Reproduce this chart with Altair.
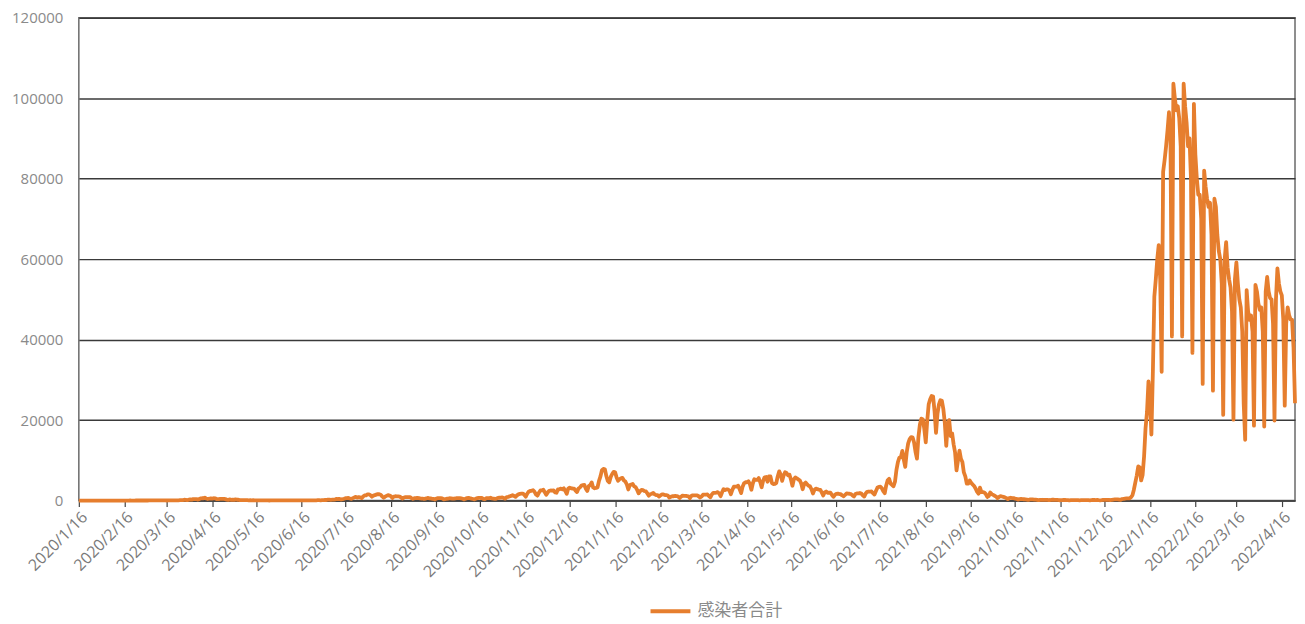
import altair as alt
import pandas as pd
from datetime import datetime, timezone

# Daily new infections, one list per month (2020/1/16 - 2022/4/25)
c2020_01 = [1, 0, 0, 0, 0, 0, 0, 1, 2, 0, 0, 1, 1, 2, 3, 2]
c2020_02 = [2, 2, 0, 0, 3, 1, 0, 0, 0, 1, 0, 0, 2, 8, 8, 5, 6, 7, 7, 12, 10, 8, 11, 13, 13, 13, 15, 20, 13]
c2020_03 = [14, 14, 20, 33, 33, 50, 43, 32, 25, 59, 52, 56, 42, 61, 34, 18, 44, 39, 37, 37, 35, 53, 40, 65, 93, 96, 123, 201, 173, 86, 225]
c2020_04 = [266, 235, 351, 368, 383, 252, 351, 515, 576, 579, 720, 507, 391, 457, 549, 482, 584, 568, 373, 369, 391, 441, 436, 439, 353, 233, 197, 276, 196, 243]
c2020_05 = [165, 294, 203, 204, 123, 98, 95, 116, 110, 89, 57, 80, 56, 76, 57, 72, 38, 42, 32, 31, 24, 23, 40, 27, 21, 28, 35, 64, 37, 57, 50]
c2020_06 = [34, 36, 40, 48, 39, 44, 38, 48, 38, 53, 43, 38, 46, 67, 48, 72, 43, 33, 66, 43, 57, 37, 56, 53, 72, 62, 92, 88, 61, 117]
c2020_07 = [125, 138, 136, 230, 234, 194, 216, 218, 296, 430, 386, 407, 259, 339, 442, 592, 581, 650, 510, 422, 607, 773, 928, 713, 852, 785, 622, 985, 1262, 1305, 1534]
c2020_08 = [1536, 1331, 958, 1237, 1356, 1485, 1595, 1567, 1442, 1048, 699, 976, 1176, 1365, 1236, 1070, 644, 1007, 1070, 1048, 1022, 986, 740, 499, 762, 880, 857, 852, 852, 613, 442]
c2020_09 = [596, 592, 671, 594, 520, 508, 453, 440, 523, 642, 578, 547, 437, 423, 270, 500, 590, 594, 585, 535, 323, 386, 450, 489, 580, 566, 479, 466, 521, 628]
c2020_10 = [593, 601, 545, 450, 290, 485, 615, 691, 587, 474, 389, 301, 486, 589, 684, 642, 652, 426, 318, 594, 613, 621, 700, 533, 485, 400, 500, 656, 700, 750, 800]
c2020_11 = [613, 482, 862, 900, 1062, 1142, 1333, 1145, 925, 1286, 1541, 1660, 1704, 1738, 1440, 951, 1697, 2201, 2388, 2427, 2597, 2169, 1518, 1228, 1948, 2504, 2510, 2684, 2068, 1434]
c2020_12 = [2031, 2423, 2505, 2444, 2513, 2027, 1940, 2791, 2811, 2973, 2795, 3041, 2388, 1686, 2979, 3211, 3044, 3000, 2993, 2470, 2121, 2997, 3244, 3747, 3835, 3881, 2958, 2394, 3601, 3853, 4519]
c2021_01 = [3258, 3058, 3129, 3315, 4907, 5999, 7570, 7882, 7790, 6094, 4876, 4528, 5871, 6605, 7133, 7014, 5759, 4925, 5320, 5530, 5654, 4983, 4714, 3990, 2764, 3853, 3960, 4132, 3529, 3342, 2673]
c2021_02 = [1792, 2324, 2631, 2576, 2369, 2278, 1781, 1219, 1569, 1711, 1878, 1538, 1361, 1362, 1001, 1307, 1520, 1519, 1371, 1342, 1258, 738, 944, 1087, 1075, 1163, 1129, 1001]
c2021_03 = [647, 967, 1234, 1173, 1147, 1138, 1063, 599, 1125, 1306, 1282, 1312, 1288, 1074, 743, 1017, 1451, 1496, 1487, 1515, 1119, 822, 1523, 1907, 1915, 1994, 2083, 1788, 1084, 2069, 2843]
c2021_04 = [2606, 2762, 2779, 2471, 1571, 2650, 3451, 3449, 3454, 3697, 2777, 1841, 3451, 4301, 4568, 4537, 4796, 4072, 2686, 4298, 5293, 5140, 5119, 5600, 4598, 3314, 4884, 5789, 5852, 4678]
c2021_05 = [5989, 5998, 4382, 4075, 4125, 4394, 6051, 7244, 6480, 4900, 6244, 7045, 6885, 6266, 6419, 5241, 3683, 5250, 5729, 5526, 5236, 5031, 4222, 2816, 4130, 4474, 4069, 3661, 3523, 2811, 1760]
c2021_06 = [2627, 2974, 2825, 2722, 2668, 2045, 1253, 2020, 2239, 1937, 1941, 1943, 1387, 936, 1426, 1687, 1747, 1622, 1580, 1272, 1079, 1442, 1784, 1717, 1696, 1625, 1291, 1036, 1617, 1762]
c2021_07 = [1814, 1878, 1748, 1293, 992, 1751, 2187, 2248, 2224, 2258, 1844, 1503, 2385, 3194, 3416, 3434, 3097, 2329, 1841, 3758, 5020, 5402, 4225, 3875, 3574, 4692, 7629, 9576, 10693, 10744, 12340]
c2021_08 = [10167, 8393, 12017, 14207, 15263, 15753, 15700, 14477, 12134, 10420, 15810, 18889, 20366, 20151, 17841, 14466, 19868, 23915, 25156, 25992, 25865, 22219, 16836, 21563, 23908, 24949, 24809, 22748, 19300, 13600, 19000]
c2021_09 = [20000, 16000, 16700, 14000, 12000, 7500, 10000, 12400, 10400, 9600, 7000, 6000, 4200, 4200, 5000, 4400, 4000, 3600, 3000, 2200, 1700, 3200, 2100, 2100, 2000, 1600, 900, 1100, 2000, 1600]
c2021_10 = [1400, 1200, 1000, 600, 900, 1100, 1000, 900, 800, 600, 360, 600, 700, 620, 600, 500, 430, 230, 370, 390, 350, 330, 290, 230, 150, 280, 300, 280, 260, 240, 180]
c2021_11 = [86, 180, 160, 200, 160, 170, 160, 110, 140, 200, 210, 170, 160, 150, 80, 120, 130, 140, 150, 110, 110, 50, 90, 100, 130, 120, 120, 100, 70, 100]
c2021_12 = [120, 110, 130, 130, 110, 60, 110, 140, 170, 130, 140, 100, 70, 120, 180, 170, 190, 170, 160, 100, 200, 250, 280, 280, 300, 230, 200, 380, 400, 500, 560]
c2022_01 = [534, 558, 782, 1265, 2638, 4475, 6214, 8480, 8249, 5000, 6377, 11000, 18000, 22000, 29600, 25500, 16400, 32000, 50700, 55000, 60000, 63500, 55000, 32000, 81700, 84600, 88000, 92000, 96500, 90000, 40800]
c2022_02 = [103600, 100000, 97000, 98000, 95000, 88000, 40800, 103600, 98000, 94000, 88000, 90000, 80000, 36700, 98600, 86000, 80000, 76000, 76000, 70000, 29000, 82000, 78000, 75000, 73000, 74000, 66000, 27300]
c2022_03 = [75000, 73000, 66000, 62000, 60000, 54000, 21300, 60000, 64200, 58000, 55000, 53000, 47000, 20100, 55000, 59200, 54000, 50000, 48000, 42000, 24000, 15100, 52300, 47000, 44900, 46000, 42000, 18600, 53600, 52000, 49000]
c2022_04 = [47400, 48000, 42000, 18400, 52000, 55600, 52000, 50300, 50000, 44000, 19900, 50000, 57700, 54000, 52000, 51000, 45000, 23600, 44000, 48000, 46000, 45000, 44900, 38000, 24200]

start_date = "2020-01-16"
series_name = "感染者合計"
tick_labels = [
    "2020/1/16", "2020/2/16", "2020/3/16", "2020/4/16", "2020/5/16", "2020/6/16",
    "2020/7/16", "2020/8/16", "2020/9/16", "2020/10/16", "2020/11/16", "2020/12/16",
    "2021/1/16", "2021/2/16", "2021/3/16", "2021/4/16", "2021/5/16", "2021/6/16",
    "2021/7/16", "2021/8/16", "2021/9/16", "2021/10/16", "2021/11/16", "2021/12/16",
    "2022/1/16", "2022/2/16", "2022/3/16", "2022/4/16",
]
y_ticks = [0, 20000, 40000, 60000, 80000, 100000, 120000]

months = [
    c2020_01, c2020_02, c2020_03, c2020_04, c2020_05, c2020_06, c2020_07, c2020_08,
    c2020_09, c2020_10, c2020_11, c2020_12, c2021_01, c2021_02, c2021_03, c2021_04,
    c2021_05, c2021_06, c2021_07, c2021_08, c2021_09, c2021_10, c2021_11, c2021_12,
    c2022_01, c2022_02, c2022_03, c2022_04,
]
values = [v for m in months for v in m]
dates = pd.date_range(start_date, periods=len(values), freq="D", tz="UTC")
t_ms = [int(d.timestamp() * 1000) for d in dates]
df = pd.DataFrame({"t": t_ms, "v": values, "s": series_name})


def to_ms(lbl):
    return int(datetime.strptime(lbl, "%Y/%m/%d").replace(tzinfo=timezone.utc).timestamp() * 1000)


tick_ms = [to_ms(l) for l in tick_labels]

chart = alt.Chart(df).mark_line(strokeWidth=3.8, strokeJoin="round").encode(
    x=alt.X(
        "t:T",
        scale=alt.Scale(type="utc", domain=[t_ms[0], t_ms[-1]]),
        axis=alt.Axis(
            values=tick_ms,
            labelExpr="utcFormat(datum.value, '%Y/%-m/%-d')",
            title=None,
            labelAngle=-45,
            labelOverlap=False,
            labelFlush=False,
            labelBound=False,
            grid=False,
            domainColor="#444444",
            domainWidth=1.5,
            tickColor="#444444",
            tickWidth=1.2,
            tickSize=6,
            labelColor="#7a7a7a",
            labelFontSize=16,
            labelPadding=2,
        ),
    ),
    y=alt.Y(
        "v:Q",
        scale=alt.Scale(domain=[0, 120000]),
        axis=alt.Axis(
            values=y_ticks,
            format="d",
            title=None,
            grid=True,
            gridColor="#3a3a3a",
            gridWidth=1.5,
            domain=False,
            ticks=False,
            labelColor="#8a8a8a",
            labelFontSize=15,
            labelPadding=16,
        ),
    ),
    color=alt.Color(
        "s:N",
        scale=alt.Scale(domain=[series_name], range=["#E67E2E"]),
        legend=alt.Legend(
            title=None,
            orient="none",
            legendX=571,
            legendY=573,
            symbolType="stroke",
            symbolSize=1600,
            symbolStrokeWidth=4,
            labelFont="Noto Sans CJK JP",
            labelFontSize=17,
            labelColor="#8a8a8a",
            labelOffset=5,
            padding=0,
        ),
    ),
).properties(
    width=1219,
    height=484,
    autosize="none",
    padding={"left": 71, "top": 9, "right": 2, "bottom": 119},
).configure(
    font="Open Sans",
).configure_view(
    stroke="#6a6a6a",
    strokeWidth=1.5,
)

chart.save("out.html", embed_options={"renderer": "svg", "actions": False})
